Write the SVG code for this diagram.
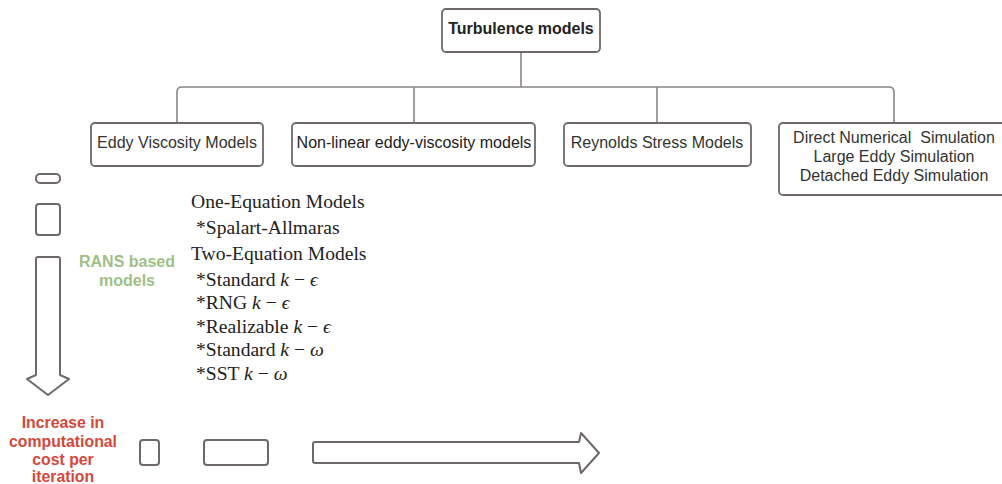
<svg xmlns="http://www.w3.org/2000/svg" width="1002" height="484" viewBox="0 0 1002 484">
<style>
.box{fill:#fff;stroke:#6f6868;stroke-width:1.8}
.shape{fill:#fff;stroke:#6f6868;stroke-width:2}
.conn{fill:none;stroke:#8c8585;stroke-width:1.6}
.lbl{font-family:"Liberation Sans",Arial,sans-serif;font-size:16px;fill:#333;text-anchor:middle}
.list{font-family:"Liberation Serif","Times New Roman",serif;font-size:19.6px;fill:#222}
.green{font-family:"Liberation Sans",Arial,sans-serif;font-size:16px;font-weight:bold;fill:#9fbf86;text-anchor:middle}
.red{font-family:"Liberation Sans",Arial,sans-serif;font-size:15.8px;font-weight:bold;fill:#d4473b;text-anchor:middle}
</style>
<rect width="1002" height="484" fill="#fff"/>
<g id="connectors">
<path class="conn" d="M521 52 V87"/>
<path class="conn" d="M177 123 V92 Q177 87 182 87 H889 Q894 87 894 92 V123"/>
<path class="conn" d="M414 87 V123"/>
<path class="conn" d="M657 87 V123"/>
</g>
<g id="n-root">
<rect class="box" x="442" y="9" width="158" height="43" rx="4"/>
<text class="lbl" x="521" y="34" font-weight="bold" style="fill:#222">Turbulence models</text>
</g>
<g id="n-eddy">
<rect class="box" x="91" y="123" width="172" height="43" rx="4"/>
<text class="lbl" x="177" y="148">Eddy Viscosity Models</text>
</g>
<g id="n-nonlinear">
<rect class="box" x="292" y="123" width="243" height="43" rx="4"/>
<text class="lbl" x="414" y="148" style="fill:#222">Non-linear eddy-viscosity models</text>
</g>
<g id="n-reynolds">
<rect class="box" x="564" y="123" width="187" height="43" rx="4"/>
<text class="lbl" x="657" y="148">Reynolds Stress Models</text>
</g>
<g id="n-dns">
<rect class="box" x="779" y="123" width="230" height="72" rx="4"/>
<text class="lbl" x="894" y="143">Direct Numerical&#160; Simulation</text>
<text class="lbl" x="894" y="162">Large Eddy Simulation</text>
<text class="lbl" x="894" y="181">Detached Eddy Simulation</text>
</g>
<g id="n-list">
<text class="list" x="191" y="208">One-Equation Models</text>
<text class="list" x="196" y="234">*Spalart-Allmaras</text>
<text class="list" x="191" y="260">Two-Equation Models</text>
<text class="list" x="196" y="286">*Standard <tspan font-style="italic">k</tspan> − <tspan font-style="italic">ϵ</tspan></text>
<text class="list" x="196" y="309">*RNG <tspan font-style="italic">k</tspan> − <tspan font-style="italic">ϵ</tspan></text>
<text class="list" x="196" y="333">*Realizable <tspan font-style="italic">k</tspan> − <tspan font-style="italic">ϵ</tspan></text>
<text class="list" x="196" y="356">*Standard <tspan font-style="italic">k</tspan> − <tspan font-style="italic">ω</tspan></text>
<text class="list" x="196" y="380">*SST <tspan font-style="italic">k</tspan> − <tspan font-style="italic">ω</tspan></text>
</g>
<g id="n-rans">
<text class="green" x="127" y="267">RANS based</text>
<text class="green" x="127" y="286">models</text>
</g>
<g id="n-vertical-scale">
<rect class="shape" x="36" y="174" width="24" height="9" rx="4"/>
<rect class="shape" x="36" y="204" width="24" height="31" rx="3"/>
<path class="shape" stroke-linejoin="round" d="M38 257 H58 Q60 257 60 259 V375 L69 379 L48 395 L27 379 L36 375 V259 Q36 257 38 257 Z"/>
</g>
<g id="n-cost">
<text class="red" x="63" y="428">Increase in</text>
<text class="red" x="63" y="447">computational</text>
<text class="red" x="63" y="465">cost per</text>
<text class="red" x="63" y="482">iteration</text>
</g>
<g id="n-horizontal-scale">
<rect class="shape" x="140" y="440" width="19" height="25" rx="3"/>
<rect class="shape" x="204" y="440" width="64" height="25" rx="3"/>
<path class="shape" stroke-linejoin="round" d="M315 442 H579 L581 433 L599 453 L581 473 L579 463 H315 Q313 463 313 461 V444 Q313 442 315 442 Z"/>
</g>
</svg>
